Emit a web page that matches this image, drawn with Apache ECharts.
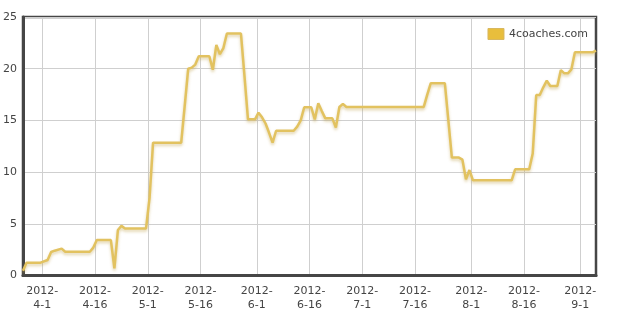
<!DOCTYPE html>
<html><head><meta charset="utf-8">
<script src="https://cdn.jsdelivr.net/npm/echarts@6/dist/echarts.min.js"></script>
<style>html,body{margin:0;padding:0;background:#fff}#c{width:621px;height:318px}</style>
</head><body><div id="c"></div>
<script>
// Data (dates are daily readings, plotted at mid-day)
var dates = ['2012-03-26','2012-03-27','2012-03-31','2012-04-02','2012-04-03','2012-04-04','2012-04-06','2012-04-07','2012-04-14','2012-04-15','2012-04-16','2012-04-20','2012-04-21','2012-04-22','2012-04-23','2012-04-24','2012-04-30','2012-05-01','2012-05-02','2012-05-10','2012-05-11','2012-05-12','2012-05-13','2012-05-14','2012-05-15','2012-05-18','2012-05-19','2012-05-20','2012-05-21','2012-05-22','2012-05-23','2012-05-27','2012-05-28','2012-05-29','2012-05-31','2012-06-01','2012-06-02','2012-06-03','2012-06-04','2012-06-05','2012-06-06','2012-06-11','2012-06-12','2012-06-13','2012-06-14','2012-06-16','2012-06-17','2012-06-18','2012-06-19','2012-06-20','2012-06-22','2012-06-23','2012-06-24','2012-06-25','2012-06-26','2012-07-18','2012-07-19','2012-07-20','2012-07-24','2012-07-25','2012-07-26','2012-07-28','2012-07-29','2012-07-30','2012-07-31','2012-08-01','2012-08-12','2012-08-13','2012-08-17','2012-08-18','2012-08-19','2012-08-20','2012-08-21','2012-08-22','2012-08-23','2012-08-25','2012-08-26','2012-08-27','2012-08-28','2012-08-29','2012-08-30','2012-09-04','2012-09-05'];
var values = [0.46,1.24,1.24,1.5,2.27,2.4,2.6,2.3,2.3,2.7,3.43,3.43,0.7,4.4,4.8,4.55,4.55,7.5,12.85,12.85,16.4,20.0,20.1,20.4,21.2,21.2,19.9,22.3,21.4,22.0,23.4,23.4,19.3,15.1,15.1,15.75,15.3,14.7,13.8,12.85,14.0,14.0,14.4,15.0,16.27,16.27,15.1,16.65,15.9,15.2,15.2,14.3,16.3,16.6,16.3,16.3,17.5,18.6,18.6,15.0,11.4,11.4,11.2,9.3,10.2,9.2,9.2,10.27,10.27,11.8,17.46,17.46,18.2,18.84,18.33,18.33,19.87,19.55,19.55,19.94,21.58,21.58,21.75];
var tickDates = ['2012-04-01','2012-04-16','2012-05-01','2012-05-16','2012-06-01','2012-06-16','2012-07-01','2012-07-16','2012-08-01','2012-08-16','2012-09-01'];
var tickLabels = ['2012-\n4-1','2012-\n4-16','2012-\n5-1','2012-\n5-16','2012-\n6-1','2012-\n6-16','2012-\n7-1','2012-\n7-16','2012-\n8-1','2012-\n8-16','2012-\n9-1'];
var seriesName = '4coaches.com';

function dayNum(s){var p=s.split('-');return (Date.UTC(+p[0],+p[1]-1,+p[2])-Date.UTC(2012,3,1))/86400000;}
var pts = dates.map(function(d,i){return [dayNum(d)+0.5, values[i]];});
var tickVals = tickDates.map(dayNum);
var labelMap = {}; tickVals.forEach(function(v,i){labelMap[v]=tickLabels[i];});

var chart = echarts.init(document.getElementById('c'));
chart.setOption({
  animation:false,
  textStyle:{fontFamily:'DejaVu Sans'},
  grid:{left:23,right:25,top:17,bottom:42.5,show:true,borderColor:'#464646',borderWidth:2.5,backgroundColor:'#fff'},
  legend:{show:true,right:28,top:23,itemWidth:16,itemHeight:11,itemGap:4,icon:'rect',
    textStyle:{fontSize:11,color:'#444',fontFamily:'DejaVu Sans'},
    data:[{name:seriesName,itemStyle:{color:'#E8BE3C',borderColor:'#D8B860',borderWidth:1}}]},
  xAxis:{type:'value',min:-5.5,max:157.5,
    axisLine:{show:true,onZero:false,lineStyle:{color:'#464646',width:3}},
    axisTick:{show:false,customValues:tickVals},
    axisLabel:{customValues:tickVals,formatter:function(v){return labelMap[v]||'';},color:'#444',fontSize:11,lineHeight:14,margin:9,fontFamily:'DejaVu Sans'},
    splitLine:{show:true,lineStyle:{color:'#cfcfcf',width:1}}},
  yAxis:{type:'value',min:0,max:25,interval:5,
    axisLine:{show:true,onZero:false,lineStyle:{color:'#464646',width:3}},
    axisTick:{show:false},
    axisLabel:{color:'#444',fontSize:11,margin:6,fontFamily:'DejaVu Sans'},
    splitLine:{show:true,lineStyle:{color:'#cfcfcf',width:1}}},
  series:[{name:seriesName,type:'line',data:pts,showSymbol:false,symbol:'none',
    lineStyle:{color:'#E2C260',width:2.5,shadowColor:'rgba(190,160,70,0.45)',shadowBlur:3,shadowOffsetY:2},
    itemStyle:{color:'#E8BE3C'}}]
});
</script></body></html>
